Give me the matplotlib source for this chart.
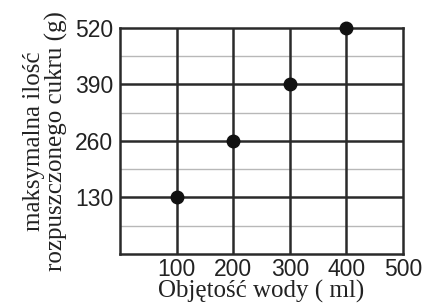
import numpy as np
import matplotlib.pyplot as plt

# data
woda = [100, 200, 300, 400]        # ml
cukier = [130, 260, 390, 520]      # g
xticks = [100, 200, 300, 400, 500]
yticks = [130, 260, 390, 520]

fig = plt.figure(figsize=(4.26, 3.07), dpi=100)
ax = fig.add_axes([0.282, 0.173, 0.664, 0.736])

ax.set_xlim(0, 500)
ax.set_ylim(0, 520)

# light minor grid, dark major grid
for y in np.arange(65, 520, 130):
    ax.axhline(y, color='#b8b8b8', lw=1.0, zorder=1)
for x in xticks[:-1]:
    ax.axvline(x, color='#2a2a2a', lw=1.8, zorder=2)
for y in yticks[:-1]:
    ax.axhline(y, color='#2a2a2a', lw=1.8, zorder=2)
for s in ax.spines.values():
    s.set_linewidth(1.8)
    s.set_color('#2a2a2a')

ax.plot(woda, cukier, 'o', color='#111111', ms=9, zorder=3, clip_on=False)

ax.set_xticks(xticks)
ax.set_yticks(yticks)
ax.tick_params(axis='x', length=0, pad=3, labelsize=16.5)
ax.tick_params(axis='y', length=0, pad=5, labelsize=16.5)
for lab in ax.get_xticklabels() + ax.get_yticklabels():
    lab.set_family('Liberation Sans')
    lab.set_color('#222222')

ax.set_xlabel("Objętość wody ( ml)", family='Liberation Serif', fontsize=18,
              labelpad=-1, color='#222222')
ax.set_ylabel("maksymalna ilość\nrozpuszczonego cukru (g)", family='Liberation Serif',
              fontsize=18, labelpad=5, linespacing=1.0, color='#222222')

fig.savefig("out.png", dpi=100)
